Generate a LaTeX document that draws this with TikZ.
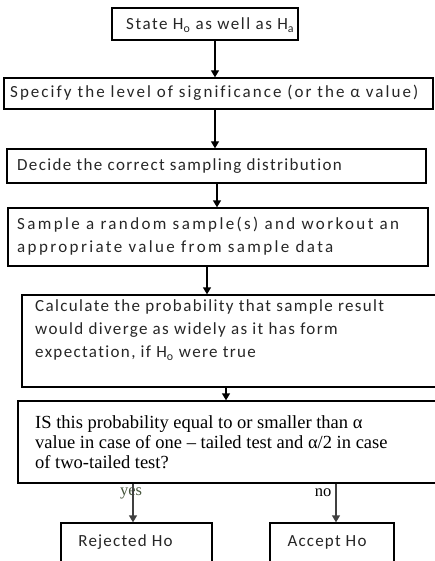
\documentclass[tikz,border=0pt]{standalone}
\usepackage{fontspec}
\setmainfont{Liberation Serif}
\newfontfamily\calfont[Ligatures=NoCommon]{Carlito}
\usetikzlibrary{arrows.meta}
\begin{document}
\begin{tikzpicture}[x=1pt,y=-1pt,
  box/.style={draw=black, line width=1.3pt, inner sep=0pt},
  txt/.style={inner sep=0pt, align=left, anchor=west, text=black!85, font=\calfont\fontsize{17}{23}\selectfont\addfontfeature{LetterSpace=#1}},
  txt/.default=8,
  stxt/.style={inner sep=0pt, align=left, anchor=west, text=black, font=\fontsize{18.5}{20}\selectfont},
  lbl/.style={inner sep=0pt, font=\fontsize{16.5}{18}\selectfont},
  arr/.style={line width=1.3pt, -{Triangle[length=7pt,width=8pt]}}]
\useasboundingbox (0,0) rectangle (434,561);
% boxes
\node[box, minimum width=186pt, minimum height=32pt] (b1) at (205,24) {};
\node[box, minimum width=429pt, minimum height=31pt] (b2) at (218.5,93.5) {};
\node[box, minimum width=419pt, minimum height=34pt] (b3) at (216.5,166) {};
\node[box, minimum width=420pt, minimum height=58pt] (b4) at (218,237) {};
\node[box, minimum width=415pt, minimum height=92pt] (b5) at (229.5,341) {};
\node[box, minimum width=419pt, minimum height=82pt] (b6) at (227.5,442) {};
\node[box, minimum width=151pt, minimum height=57pt] (bR) at (136.5,551.5) {};
\node[box, minimum width=124pt, minimum height=57pt] (bA) at (332,551.5) {};
% texts
\node[txt=9] (t1) at (126,25) {State H\textsubscript{o} as well as H\textsubscript{a}};
\node[txt=12] (t2) at (10,93) {Specify the level of significance (or the α value)};
\node[txt=8] (t3) at (17,166) {Decide the correct sampling distribution};
\node[txt=14] (t4) at (17,236.5) {Sample a random sample(s) and workout an\\appropriate value from sample data};
\node[txt=8] (t5) at (35,330) {Calculate the probability that sample result\\would diverge as widely as it has form\\expectation, if H\textsubscript{o} were true};
\node[stxt] (t6) at (35,442) {IS this probability equal to or smaller than α\\value in case of one -- tailed test and α/2 in case\\of two-tailed test?};
\node[txt=7, anchor=center] (tR) at (125.5,542) {Rejected Ho};
\node[txt=7, anchor=center] (tA) at (327,542) {Accept Ho};
% arrows
\draw[arr] ([xshift=10pt]b1.south) -- ([xshift=10pt]b1.south |- b2.north);
\draw[arr] ([xshift=-3.5pt]b2.south) -- ([xshift=-3.5pt]b2.south |- b3.north);
\draw[arr] ([xshift=0.5pt]b3.south) -- ([xshift=0.5pt]b3.south |- b4.north);
\draw[arr] ([xshift=-11pt]b4.south) -- ([xshift=-11pt]b4.south |- b5.north);
\draw[arr] ([xshift=-3.5pt]b5.south) -- ([xshift=-3.5pt]b5.south |- b6.north);
\node[lbl, text={rgb,255:red,70;green,85;blue,60}] (yes) at (131,493) {yes};
\node[lbl] (no) at (323,493) {no};
\draw[arr, black!75] ([xshift=-94.5pt]b6.south) -- ([xshift=-94.5pt]b6.south |- bR.north);
\draw[arr, black!75] ([xshift=108.5pt]b6.south) -- ([xshift=108.5pt]b6.south |- bA.north);
\end{tikzpicture}
\end{document}
